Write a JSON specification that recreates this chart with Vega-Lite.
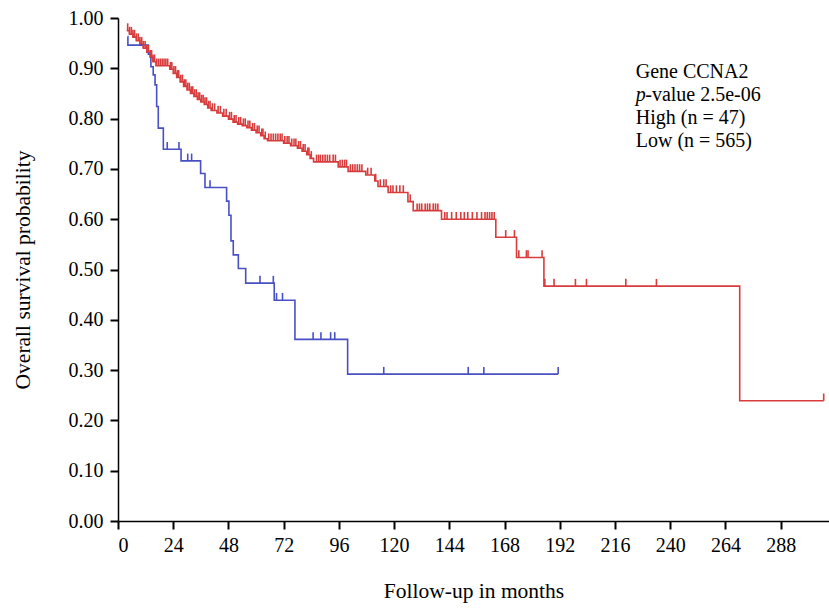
{
  "$schema": "https://vega.github.io/schema/vega-lite/v6.json",
  "width": 711,
  "height": 503,
  "autosize": {"type": "none"},
  "padding": {"left": 118, "top": 18, "right": 0, "bottom": 87},
  "background": "white",
  "config": {"view": {"stroke": null}, "font": "Liberation Serif"},
  "datasets": {
    "curve": [
      {"group": "Low", "month": 3.8, "surv": 0.975},
      {"group": "Low", "month": 5, "surv": 0.968},
      {"group": "Low", "month": 6.5, "surv": 0.962},
      {"group": "Low", "month": 8, "surv": 0.955},
      {"group": "Low", "month": 9.5, "surv": 0.948},
      {"group": "Low", "month": 11, "surv": 0.94},
      {"group": "Low", "month": 12.5, "surv": 0.932},
      {"group": "Low", "month": 14, "surv": 0.922},
      {"group": "Low", "month": 15.2, "surv": 0.913},
      {"group": "Low", "month": 16.5, "surv": 0.905},
      {"group": "Low", "month": 22.5, "surv": 0.898},
      {"group": "Low", "month": 24, "surv": 0.89},
      {"group": "Low", "month": 25.5, "surv": 0.882},
      {"group": "Low", "month": 27, "surv": 0.873},
      {"group": "Low", "month": 28.5, "surv": 0.864},
      {"group": "Low", "month": 30, "surv": 0.857},
      {"group": "Low", "month": 31.5, "surv": 0.85},
      {"group": "Low", "month": 33, "surv": 0.844},
      {"group": "Low", "month": 34.5, "surv": 0.838},
      {"group": "Low", "month": 36, "surv": 0.833},
      {"group": "Low", "month": 37.5, "surv": 0.828},
      {"group": "Low", "month": 39, "surv": 0.821},
      {"group": "Low", "month": 40.5, "surv": 0.816},
      {"group": "Low", "month": 43, "surv": 0.811},
      {"group": "Low", "month": 45.5, "surv": 0.805},
      {"group": "Low", "month": 48, "surv": 0.799},
      {"group": "Low", "month": 50, "surv": 0.793},
      {"group": "Low", "month": 52, "surv": 0.789},
      {"group": "Low", "month": 54, "surv": 0.786},
      {"group": "Low", "month": 56, "surv": 0.782},
      {"group": "Low", "month": 58, "surv": 0.777},
      {"group": "Low", "month": 60, "surv": 0.772},
      {"group": "Low", "month": 62, "surv": 0.766},
      {"group": "Low", "month": 63.5, "surv": 0.76},
      {"group": "Low", "month": 65, "surv": 0.756},
      {"group": "Low", "month": 72, "surv": 0.751},
      {"group": "Low", "month": 75, "surv": 0.746},
      {"group": "Low", "month": 78, "surv": 0.741},
      {"group": "Low", "month": 80, "surv": 0.735},
      {"group": "Low", "month": 82, "surv": 0.728},
      {"group": "Low", "month": 83.5, "surv": 0.721},
      {"group": "Low", "month": 85, "surv": 0.714},
      {"group": "Low", "month": 95.7, "surv": 0.704},
      {"group": "Low", "month": 100, "surv": 0.695},
      {"group": "Low", "month": 107.7, "surv": 0.688},
      {"group": "Low", "month": 111.6, "surv": 0.676},
      {"group": "Low", "month": 113, "surv": 0.665},
      {"group": "Low", "month": 117.4, "surv": 0.653},
      {"group": "Low", "month": 126, "surv": 0.635},
      {"group": "Low", "month": 128.3, "surv": 0.617},
      {"group": "Low", "month": 140.6, "surv": 0.6},
      {"group": "Low", "month": 164.2, "surv": 0.564},
      {"group": "Low", "month": 173.2, "surv": 0.524},
      {"group": "Low", "month": 185.1, "surv": 0.467},
      {"group": "Low", "month": 270.2, "surv": 0.239},
      {"group": "Low", "month": 306.7, "surv": 0.239},
      {"group": "High", "month": 4.2, "surv": 0.963},
      {"group": "High", "month": 4.3, "surv": 0.946},
      {"group": "High", "month": 13.2, "surv": 0.928},
      {"group": "High", "month": 14.3, "surv": 0.903},
      {"group": "High", "month": 15.3, "surv": 0.887},
      {"group": "High", "month": 16.1, "surv": 0.867},
      {"group": "High", "month": 16.8, "surv": 0.824},
      {"group": "High", "month": 17.5, "surv": 0.781},
      {"group": "High", "month": 19.7, "surv": 0.739},
      {"group": "High", "month": 27.4, "surv": 0.716},
      {"group": "High", "month": 35.9, "surv": 0.691},
      {"group": "High", "month": 37.8, "surv": 0.663},
      {"group": "High", "month": 47.2, "surv": 0.636},
      {"group": "High", "month": 48.2, "surv": 0.608},
      {"group": "High", "month": 49.1, "surv": 0.557},
      {"group": "High", "month": 50.1, "surv": 0.529},
      {"group": "High", "month": 52.3, "surv": 0.502},
      {"group": "High", "month": 55.5, "surv": 0.473},
      {"group": "High", "month": 67.9, "surv": 0.439},
      {"group": "High", "month": 76.9, "surv": 0.361},
      {"group": "High", "month": 99.8, "surv": 0.292},
      {"group": "High", "month": 191.3, "surv": 0.292}
    ],
    "censor": [
      {"group": "High", "month": 21.4, "surv": 0.739},
      {"group": "High", "month": 26.5, "surv": 0.739},
      {"group": "High", "month": 30.3, "surv": 0.716},
      {"group": "High", "month": 32, "surv": 0.716},
      {"group": "High", "month": 40, "surv": 0.663},
      {"group": "High", "month": 61.7, "surv": 0.473},
      {"group": "High", "month": 67.5, "surv": 0.473},
      {"group": "High", "month": 68.9, "surv": 0.439},
      {"group": "High", "month": 71.5, "surv": 0.439},
      {"group": "High", "month": 84.8, "surv": 0.361},
      {"group": "High", "month": 88.2, "surv": 0.361},
      {"group": "High", "month": 92.4, "surv": 0.361},
      {"group": "High", "month": 94.2, "surv": 0.361},
      {"group": "High", "month": 115.5, "surv": 0.292},
      {"group": "High", "month": 152.2, "surv": 0.292},
      {"group": "High", "month": 159, "surv": 0.292},
      {"group": "High", "month": 191.3, "surv": 0.292},
      {"group": "Low", "month": 4.2, "surv": 0.975},
      {"group": "Low", "month": 5, "surv": 0.968},
      {"group": "Low", "month": 5.8, "surv": 0.968},
      {"group": "Low", "month": 6.5, "surv": 0.962},
      {"group": "Low", "month": 7.2, "surv": 0.962},
      {"group": "Low", "month": 8, "surv": 0.955},
      {"group": "Low", "month": 8.8, "surv": 0.955},
      {"group": "Low", "month": 9.5, "surv": 0.948},
      {"group": "Low", "month": 10.3, "surv": 0.948},
      {"group": "Low", "month": 11, "surv": 0.94},
      {"group": "Low", "month": 11.8, "surv": 0.94},
      {"group": "Low", "month": 12.5, "surv": 0.932},
      {"group": "Low", "month": 13.2, "surv": 0.932},
      {"group": "Low", "month": 14, "surv": 0.922},
      {"group": "Low", "month": 14.6, "surv": 0.922},
      {"group": "Low", "month": 15.2, "surv": 0.913},
      {"group": "Low", "month": 15.9, "surv": 0.913},
      {"group": "Low", "month": 16.8, "surv": 0.905},
      {"group": "Low", "month": 17.6, "surv": 0.905},
      {"group": "Low", "month": 18.4, "surv": 0.905},
      {"group": "Low", "month": 19.2, "surv": 0.905},
      {"group": "Low", "month": 20, "surv": 0.905},
      {"group": "Low", "month": 20.8, "surv": 0.905},
      {"group": "Low", "month": 21.6, "surv": 0.905},
      {"group": "Low", "month": 22.8, "surv": 0.898},
      {"group": "Low", "month": 23.4, "surv": 0.898},
      {"group": "Low", "month": 24.3, "surv": 0.89},
      {"group": "Low", "month": 25, "surv": 0.89},
      {"group": "Low", "month": 25.8, "surv": 0.882},
      {"group": "Low", "month": 26.4, "surv": 0.882},
      {"group": "Low", "month": 27.3, "surv": 0.873},
      {"group": "Low", "month": 28, "surv": 0.873},
      {"group": "Low", "month": 28.8, "surv": 0.864},
      {"group": "Low", "month": 29.5, "surv": 0.864},
      {"group": "Low", "month": 30.3, "surv": 0.857},
      {"group": "Low", "month": 31, "surv": 0.857},
      {"group": "Low", "month": 31.8, "surv": 0.85},
      {"group": "Low", "month": 32.5, "surv": 0.85},
      {"group": "Low", "month": 33.3, "surv": 0.844},
      {"group": "Low", "month": 34, "surv": 0.844},
      {"group": "Low", "month": 34.8, "surv": 0.838},
      {"group": "Low", "month": 35.5, "surv": 0.838},
      {"group": "Low", "month": 36.3, "surv": 0.833},
      {"group": "Low", "month": 37, "surv": 0.833},
      {"group": "Low", "month": 37.8, "surv": 0.828},
      {"group": "Low", "month": 38.5, "surv": 0.828},
      {"group": "Low", "month": 39.3, "surv": 0.821},
      {"group": "Low", "month": 40, "surv": 0.821},
      {"group": "Low", "month": 41, "surv": 0.816},
      {"group": "Low", "month": 42, "surv": 0.816},
      {"group": "Low", "month": 43.5, "surv": 0.811},
      {"group": "Low", "month": 44.5, "surv": 0.811},
      {"group": "Low", "month": 46, "surv": 0.805},
      {"group": "Low", "month": 47, "surv": 0.805},
      {"group": "Low", "month": 48.5, "surv": 0.799},
      {"group": "Low", "month": 49.3, "surv": 0.799},
      {"group": "Low", "month": 50.5, "surv": 0.793},
      {"group": "Low", "month": 51.3, "surv": 0.793},
      {"group": "Low", "month": 52.5, "surv": 0.789},
      {"group": "Low", "month": 53.3, "surv": 0.789},
      {"group": "Low", "month": 54.5, "surv": 0.786},
      {"group": "Low", "month": 55.3, "surv": 0.786},
      {"group": "Low", "month": 56.5, "surv": 0.782},
      {"group": "Low", "month": 57.3, "surv": 0.782},
      {"group": "Low", "month": 58.5, "surv": 0.777},
      {"group": "Low", "month": 59.3, "surv": 0.777},
      {"group": "Low", "month": 60.5, "surv": 0.772},
      {"group": "Low", "month": 61.3, "surv": 0.772},
      {"group": "Low", "month": 62.5, "surv": 0.766},
      {"group": "Low", "month": 63, "surv": 0.766},
      {"group": "Low", "month": 64, "surv": 0.76},
      {"group": "Low", "month": 65.5, "surv": 0.756},
      {"group": "Low", "month": 66.5, "surv": 0.756},
      {"group": "Low", "month": 67.5, "surv": 0.756},
      {"group": "Low", "month": 68.5, "surv": 0.756},
      {"group": "Low", "month": 69.5, "surv": 0.756},
      {"group": "Low", "month": 70.5, "surv": 0.756},
      {"group": "Low", "month": 71.3, "surv": 0.756},
      {"group": "Low", "month": 72.5, "surv": 0.751},
      {"group": "Low", "month": 73.5, "surv": 0.751},
      {"group": "Low", "month": 74.3, "surv": 0.751},
      {"group": "Low", "month": 75.5, "surv": 0.746},
      {"group": "Low", "month": 76.5, "surv": 0.746},
      {"group": "Low", "month": 77.3, "surv": 0.746},
      {"group": "Low", "month": 78.5, "surv": 0.741},
      {"group": "Low", "month": 79.3, "surv": 0.741},
      {"group": "Low", "month": 80.5, "surv": 0.735},
      {"group": "Low", "month": 81.3, "surv": 0.735},
      {"group": "Low", "month": 82.5, "surv": 0.728},
      {"group": "Low", "month": 83, "surv": 0.728},
      {"group": "Low", "month": 84, "surv": 0.721},
      {"group": "Low", "month": 86.3, "surv": 0.714},
      {"group": "Low", "month": 87.2, "surv": 0.714},
      {"group": "Low", "month": 88, "surv": 0.714},
      {"group": "Low", "month": 89, "surv": 0.714},
      {"group": "Low", "month": 90, "surv": 0.714},
      {"group": "Low", "month": 91, "surv": 0.714},
      {"group": "Low", "month": 92, "surv": 0.714},
      {"group": "Low", "month": 93.5, "surv": 0.714},
      {"group": "Low", "month": 94.5, "surv": 0.714},
      {"group": "Low", "month": 96.5, "surv": 0.704},
      {"group": "Low", "month": 97.5, "surv": 0.704},
      {"group": "Low", "month": 98.5, "surv": 0.704},
      {"group": "Low", "month": 99.3, "surv": 0.704},
      {"group": "Low", "month": 101, "surv": 0.695},
      {"group": "Low", "month": 102, "surv": 0.695},
      {"group": "Low", "month": 103, "surv": 0.695},
      {"group": "Low", "month": 104, "surv": 0.695},
      {"group": "Low", "month": 105, "surv": 0.695},
      {"group": "Low", "month": 106, "surv": 0.695},
      {"group": "Low", "month": 108.5, "surv": 0.688},
      {"group": "Low", "month": 110, "surv": 0.688},
      {"group": "Low", "month": 112, "surv": 0.676},
      {"group": "Low", "month": 114, "surv": 0.665},
      {"group": "Low", "month": 115.5, "surv": 0.665},
      {"group": "Low", "month": 116.5, "surv": 0.665},
      {"group": "Low", "month": 118.5, "surv": 0.653},
      {"group": "Low", "month": 119.5, "surv": 0.653},
      {"group": "Low", "month": 121, "surv": 0.653},
      {"group": "Low", "month": 122.5, "surv": 0.653},
      {"group": "Low", "month": 124, "surv": 0.653},
      {"group": "Low", "month": 127, "surv": 0.635},
      {"group": "Low", "month": 130, "surv": 0.617},
      {"group": "Low", "month": 131, "surv": 0.617},
      {"group": "Low", "month": 132, "surv": 0.617},
      {"group": "Low", "month": 133.5, "surv": 0.617},
      {"group": "Low", "month": 134.5, "surv": 0.617},
      {"group": "Low", "month": 135.5, "surv": 0.617},
      {"group": "Low", "month": 137, "surv": 0.617},
      {"group": "Low", "month": 138, "surv": 0.617},
      {"group": "Low", "month": 139, "surv": 0.617},
      {"group": "Low", "month": 142, "surv": 0.6},
      {"group": "Low", "month": 143, "surv": 0.6},
      {"group": "Low", "month": 145, "surv": 0.6},
      {"group": "Low", "month": 147, "surv": 0.6},
      {"group": "Low", "month": 149, "surv": 0.6},
      {"group": "Low", "month": 150.5, "surv": 0.6},
      {"group": "Low", "month": 152, "surv": 0.6},
      {"group": "Low", "month": 154, "surv": 0.6},
      {"group": "Low", "month": 156, "surv": 0.6},
      {"group": "Low", "month": 158, "surv": 0.6},
      {"group": "Low", "month": 159.5, "surv": 0.6},
      {"group": "Low", "month": 160.5, "surv": 0.6},
      {"group": "Low", "month": 161.5, "surv": 0.6},
      {"group": "Low", "month": 162.5, "surv": 0.6},
      {"group": "Low", "month": 163.5, "surv": 0.6},
      {"group": "Low", "month": 168.5, "surv": 0.564},
      {"group": "Low", "month": 172.3, "surv": 0.564},
      {"group": "Low", "month": 174.2, "surv": 0.524},
      {"group": "Low", "month": 177.5, "surv": 0.524},
      {"group": "Low", "month": 178.2, "surv": 0.524},
      {"group": "Low", "month": 184.3, "surv": 0.524},
      {"group": "Low", "month": 185.5, "surv": 0.467},
      {"group": "Low", "month": 189.5, "surv": 0.467},
      {"group": "Low", "month": 198.8, "surv": 0.467},
      {"group": "Low", "month": 203.6, "surv": 0.467},
      {"group": "Low", "month": 220.7, "surv": 0.467},
      {"group": "Low", "month": 234, "surv": 0.467},
      {"group": "Low", "month": 306.7, "surv": 0.239}
    ]
  },
  "layer": [
    {
      "data": {"name": "curve"},
      "mark": {"type": "line", "interpolate": "step-after", "strokeWidth": 1.6},
      "encoding": {
        "x": {
          "field": "month",
          "type": "quantitative",
          "scale": {"domain": [0, 309], "nice": false, "zero": false},
          "axis": {
            "values": [0, 24, 48, 72, 96, 120, 144, 168, 192, 216, 240, 264, 288],
            "title": "Follow-up in months",
            "grid": false,
            "domainColor": "black",
            "domainWidth": 1.5,
            "tickColor": "black",
            "tickWidth": 2,
            "tickSize": 8,
            "labelColor": "black",
            "labelFont": "Liberation Serif",
            "labelFontSize": 20,
            "labelPadding": 6,
            "titleColor": "black",
            "titleFont": "Liberation Serif",
            "titleFontSize": 21.5,
            "titleFontWeight": "normal",
            "titlePadding": 25
          }
        },
        "y": {
          "field": "surv",
          "type": "quantitative",
          "scale": {"domain": [0, 1], "nice": false},
          "axis": {
            "values": [0, 0.1, 0.2, 0.3, 0.4, 0.5, 0.6, 0.7, 0.8, 0.9, 1.0],
            "format": ".2f",
            "title": "Overall survival probability",
            "grid": false,
            "domainColor": "black",
            "domainWidth": 1.5,
            "tickColor": "black",
            "tickWidth": 2,
            "tickSize": 8,
            "labelColor": "black",
            "labelFont": "Liberation Serif",
            "labelFontSize": 20,
            "labelPadding": 7,
            "titleColor": "black",
            "titleFont": "Liberation Serif",
            "titleFontSize": 21.5,
            "titleFontWeight": "normal",
            "titlePadding": 34
          }
        },
        "color": {
          "field": "group",
          "type": "nominal",
          "scale": {"domain": ["High", "Low"], "range": ["#4850c4", "#d83c3c"]},
          "legend": null
        }
      }
    },
    {
      "data": {"name": "censor"},
      "mark": {"type": "point", "shape": "M0,-1L0,0", "size": 210, "filled": false, "strokeWidth": 1.6, "opacity": 1},
      "encoding": {
        "x": {"field": "month", "type": "quantitative"},
        "y": {"field": "surv", "type": "quantitative"},
        "color": {"field": "group", "type": "nominal"}
      }
    },
    {
      "data": {"values": [{"note": "Gene CCNA2"}]},
      "mark": {"type": "text", "align": "left", "baseline": "middle", "font": "Liberation Serif", "fontSize": 20, "fill": "black"},
      "encoding": {"x": {"datum": 225, "type": "quantitative"}, "y": {"datum": 0.893, "type": "quantitative"}, "text": {"field": "note", "type": "nominal"}}
    },
    {
      "data": {"values": [{"note": "p"}]},
      "mark": {"type": "text", "align": "left", "baseline": "middle", "font": "Liberation Serif", "fontSize": 20, "fontStyle": "italic", "fill": "black"},
      "encoding": {"x": {"datum": 225, "type": "quantitative"}, "y": {"datum": 0.847, "type": "quantitative"}, "text": {"field": "note", "type": "nominal"}}
    },
    {
      "data": {"values": [{"note": "-value 2.5e-06"}]},
      "mark": {"type": "text", "align": "left", "baseline": "middle", "font": "Liberation Serif", "fontSize": 20, "dx": 9.5, "fill": "black"},
      "encoding": {"x": {"datum": 225, "type": "quantitative"}, "y": {"datum": 0.847, "type": "quantitative"}, "text": {"field": "note", "type": "nominal"}}
    },
    {
      "data": {"values": [{"note": "High (n = 47)"}]},
      "mark": {"type": "text", "align": "left", "baseline": "middle", "font": "Liberation Serif", "fontSize": 20, "fill": "black"},
      "encoding": {"x": {"datum": 225, "type": "quantitative"}, "y": {"datum": 0.801, "type": "quantitative"}, "text": {"field": "note", "type": "nominal"}}
    },
    {
      "data": {"values": [{"note": "Low (n = 565)"}]},
      "mark": {"type": "text", "align": "left", "baseline": "middle", "font": "Liberation Serif", "fontSize": 20, "fill": "black"},
      "encoding": {"x": {"datum": 225, "type": "quantitative"}, "y": {"datum": 0.7555, "type": "quantitative"}, "text": {"field": "note", "type": "nominal"}}
    }
  ]
}
